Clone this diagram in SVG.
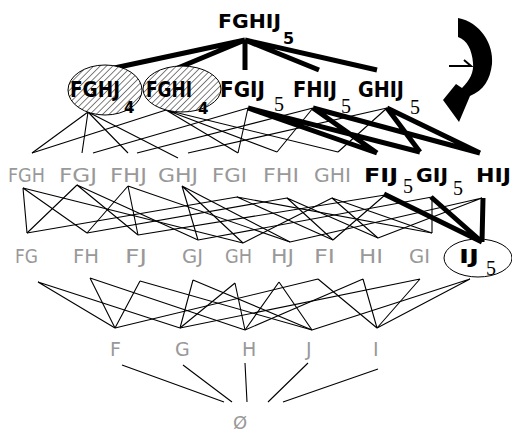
<svg xmlns="http://www.w3.org/2000/svg" width="512" height="435" viewBox="0 0 512 435">
<defs>
<pattern id="hatch" width="4.5" height="4.5" patternUnits="userSpaceOnUse" patternTransform="rotate(45)">
<rect width="4.5" height="4.5" fill="#fff"/>
<line x1="0" y1="0" x2="0" y2="4.5" stroke="#000" stroke-width="1"/>
</pattern>
</defs>
<style>
text{font-family:"DejaVu Sans","Liberation Sans",sans-serif}
.g{fill:#999;font-size:19px}
.b{fill:#000;font-weight:bold;font-size:19px}
.b1{fill:#000;font-weight:bold;font-size:22px}
.sub{fill:#000;font-weight:bold;font-size:16px}
.sub4{fill:#000;font-weight:bold;font-size:15px}
.s5{fill:#000;font-family:"Liberation Serif","Times New Roman",serif;font-size:20px}
.thin{stroke:#000;stroke-width:1.1;fill:none}
.thick{stroke:#000;stroke-width:5;fill:none;stroke-linecap:butt}
.ell{stroke:#000;stroke-width:1;fill:url(#hatch)}
</style>
<rect width="512" height="435" fill="#fff"/>

<g id="connectors">
<g class="thick">
<path d="M245,40 L105,70 M245,40 L173,70 M245,40 L245,70 M245,40 L319,70 M245,40 L377,70"/>
<path d="M248,108 L377,153 M248,108 L420,152 M313,108 L377,153 M313,108 L480,153 M387,108 L420,152 M387,108 L480,153"/>
<path d="M384,194 L482,242 M431,197 L482,242 M483,198 L482,242"/>
</g>
<g class="thin">
<path d="M88,112 L32,153 M88,112 L82,153 M88,112 L128,153 M88,112 L178,158"/>
<path d="M166,110 L32,153 M166,110 L238,153 M166,110 L277,152 M166,110 L338,152"/>
<path d="M248,108 L93,153 M248,108 L238,153"/>
<path d="M313,108 L137,153 M313,108 L277,152"/>
<path d="M387,108 L188,153 M387,108 L338,152"/>
<path d="M23,188 L27,233 M23,188 L87,233 M23,188 L243,243"/>
<path d="M77,185 L27,233 M77,185 L138,235 M77,185 L198,240"/>
<path d="M128,186 L87,233 M128,186 L138,235 M128,186 L290,242"/>
<path d="M182,186 L198,240 M182,186 L243,243 M182,186 L290,242"/>
<path d="M237,197 L27,233 M237,197 L333,240 M237,197 L432,233"/>
<path d="M287,198 L87,233 M287,198 L333,240 M287,198 L378,238"/>
<path d="M332,198 L243,243 M332,198 L378,238 M332,198 L432,233"/>
<path d="M385,195 L333,240 M385,195 L138,235"/>
<path d="M432,197 L432,233 M432,197 L198,240"/>
<path d="M482,198 L378,238 M482,198 L290,242"/>
<path d="M38,282 L115,328 M38,282 L180,328"/>
<path d="M90,278 L115,328 M90,278 L245,330"/>
<path d="M140,281 L115,328 M140,281 L312,330"/>
<path d="M193,280 L180,328 M193,280 L312,330"/>
<path d="M235,283 L180,328 M235,283 L245,330"/>
<path d="M279,282 L245,330 M279,282 L312,330"/>
<path d="M318,279 L115,328 M318,279 L377,328"/>
<path d="M363,279 L245,330 M363,279 L377,328"/>
<path d="M420,279 L180,328 M420,279 L377,328"/>
<path d="M470,279 L377,328 M470,279 L312,330"/>
<path d="M122,365 L224,402 M183,365 L232,402 M245,363 L247,402 M308,363 L268,402 M378,369 L283,402"/>
</g>
</g>

<g id="FGHIJ">
<text class="b" x="218" y="28" textLength="63" lengthAdjust="spacingAndGlyphs">FGHIJ</text>
<text class="sub" x="283" y="44">5</text>
</g>

<g id="FGHJ">
<ellipse class="ell" cx="105" cy="90" rx="37" ry="25"/>
<text class="b1" x="70" y="97" textLength="50" lengthAdjust="spacingAndGlyphs">FGHJ</text>
<text class="sub4" x="124" y="113">4</text>
</g>
<g id="FGHI">
<ellipse class="ell" cx="182" cy="89" rx="39" ry="23"/>
<text class="b1" x="146" y="97" textLength="46" lengthAdjust="spacingAndGlyphs">FGHI</text>
<text class="sub4" x="198" y="114">4</text>
</g>
<g id="FGIJ">
<text class="b1" x="220" y="97" textLength="45" lengthAdjust="spacingAndGlyphs">FGIJ</text>
<text class="s5" x="274" y="111">5</text>
</g>
<g id="FHIJ">
<text class="b1" x="293" y="97" textLength="44" lengthAdjust="spacingAndGlyphs">FHIJ</text>
<text class="s5" x="341" y="113">5</text>
</g>
<g id="GHIJ">
<text class="b1" x="358" y="97" textLength="46" lengthAdjust="spacingAndGlyphs">GHIJ</text>
<text class="s5" x="410" y="114">5</text>
</g>

<g id="FGH"><text class="g" x="8" y="182" textLength="37" lengthAdjust="spacingAndGlyphs">FGH</text></g>
<g id="FGJ"><text class="g" x="59" y="182" textLength="38" lengthAdjust="spacingAndGlyphs">FGJ</text></g>
<g id="FHJ"><text class="g" x="110" y="182" textLength="37" lengthAdjust="spacingAndGlyphs">FHJ</text></g>
<g id="GHJ"><text class="g" x="158" y="182" textLength="40" lengthAdjust="spacingAndGlyphs">GHJ</text></g>
<g id="FGI"><text class="g" x="212" y="182" textLength="35" lengthAdjust="spacingAndGlyphs">FGI</text></g>
<g id="FHI"><text class="g" x="263" y="182" textLength="36" lengthAdjust="spacingAndGlyphs">FHI</text></g>
<g id="GHI"><text class="g" x="314" y="182" textLength="37" lengthAdjust="spacingAndGlyphs">GHI</text></g>
<g id="FIJ">
<text class="b" x="364" y="182" textLength="34" lengthAdjust="spacingAndGlyphs">FIJ</text>
<text class="s5" x="403" y="193">5</text>
</g>
<g id="GIJ">
<text class="b" x="416" y="182" textLength="32" lengthAdjust="spacingAndGlyphs">GIJ</text>
<text class="s5" x="453" y="195">5</text>
</g>
<g id="HIJ">
<text class="b" x="476" y="182" textLength="35" lengthAdjust="spacingAndGlyphs">HIJ</text>
</g>

<g id="FG"><text class="g" x="15" y="263" textLength="23" lengthAdjust="spacingAndGlyphs">FG</text></g>
<g id="FH"><text class="g" x="73" y="263" textLength="26" lengthAdjust="spacingAndGlyphs">FH</text></g>
<g id="FJ"><text class="g" x="125" y="263" textLength="22" lengthAdjust="spacingAndGlyphs">FJ</text></g>
<g id="GJ"><text class="g" x="182" y="263" textLength="21" lengthAdjust="spacingAndGlyphs">GJ</text></g>
<g id="GH"><text class="g" x="225" y="263" textLength="27" lengthAdjust="spacingAndGlyphs">GH</text></g>
<g id="HJ"><text class="g" x="271" y="263" textLength="23" lengthAdjust="spacingAndGlyphs">HJ</text></g>
<g id="FI"><text class="g" x="314" y="263" textLength="21" lengthAdjust="spacingAndGlyphs">FI</text></g>
<g id="HI"><text class="g" x="359" y="263" textLength="24" lengthAdjust="spacingAndGlyphs">HI</text></g>
<g id="GI"><text class="g" x="409" y="263" textLength="21" lengthAdjust="spacingAndGlyphs">GI</text></g>
<g id="IJ">
<ellipse cx="478" cy="258" rx="34" ry="19" fill="none" stroke="#000" stroke-width="1"/>
<text class="b" x="459" y="263" textLength="20" lengthAdjust="spacingAndGlyphs">IJ</text>
<text class="s5" x="486" y="275">5</text>
</g>

<g id="F"><text class="g" x="110" y="356">F</text></g>
<g id="G"><text class="g" x="175" y="356">G</text></g>
<g id="H"><text class="g" x="242" y="356">H</text></g>
<g id="J"><text class="g" x="306" y="356">J</text></g>
<g id="I"><text class="g" x="373" y="356">I</text></g>
<g id="empty"><text class="g" x="233" y="429" style="font-size:18px">Ø</text></g>

<g id="rotate-arrow">
<path d="M458,18 C480,22 494,44 492,64 C490,80 484,90 470,96 L459,122 L443,100 L456,84 L462,88 C470,80 474,72 473,63 C472,50 467,40 458,37 Z" fill="#000"/>
<path d="M449,66 H471 L464,60" fill="none" stroke="#000" stroke-width="2"/>
</g>
</svg>
